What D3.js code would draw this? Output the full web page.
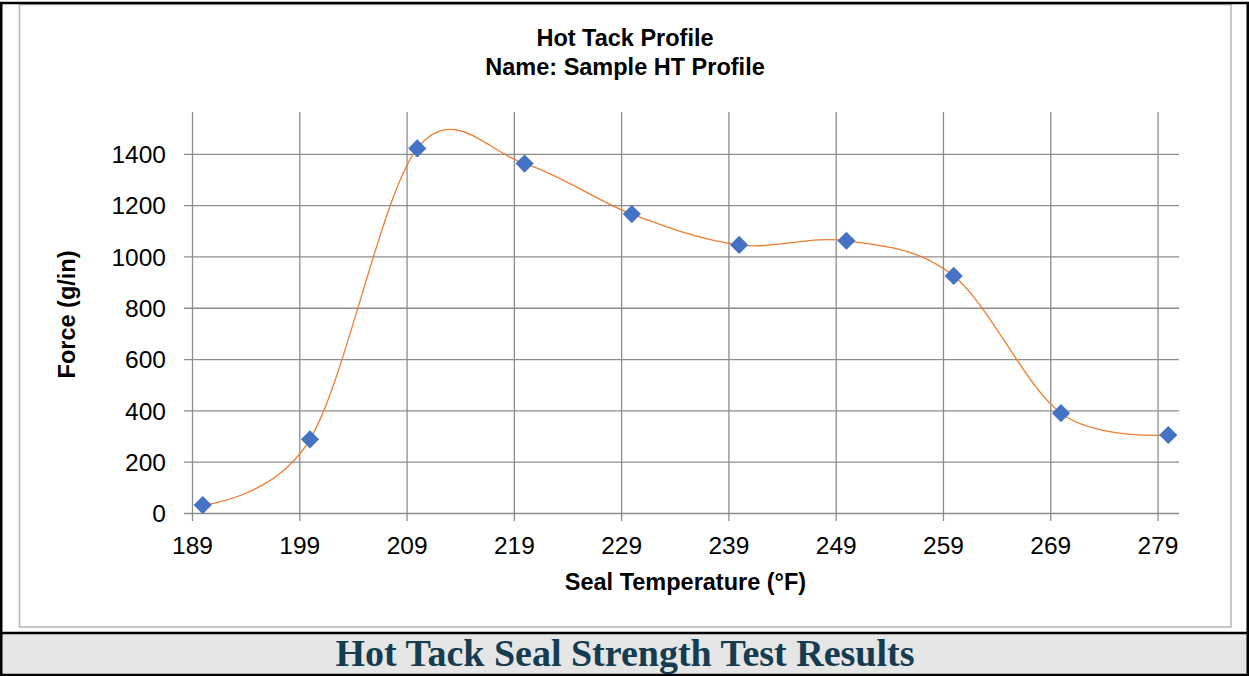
<!DOCTYPE html>
<html>
<head>
<meta charset="utf-8">
<script src="https://cdn.jsdelivr.net/npm/d3@7"></script>
<style>
  body { margin: 0; background: #fff; }
  svg { display: block; }
</style>
</head>
<body>
<svg id="chart" width="1249" height="676"></svg>
<script>
// seal temperature (F) and hot tack force (g/in)
const temps = [190, 200, 210, 220, 230, 240, 250, 260, 270, 280];
const force = [31, 287, 1421, 1362, 1165, 1045, 1061, 924, 389, 304];

const xTicks = [189, 199, 209, 219, 229, 239, 249, 259, 269, 279];
const yTicks = [0, 200, 400, 600, 800, 1000, 1200, 1400];

const titleLines = ["Hot Tack Profile", "Name: Sample HT Profile"];
const xTitle = "Seal Temperature (°F)";
const yTitle = "Force (g/in)";
const caption = "Hot Tack Seal Strength Test Results";

const svg = d3.select("#chart");
const W = +svg.attr("width");
const H = +svg.attr("height");

const plot = {left: 192, right: 1179, top: 112, bottom: 513};

const x = d3.scaleLinear().domain([189, 281]).range([plot.left, plot.right]);
const y = d3.scaleLinear().domain([0, 1563]).range([plot.bottom, plot.top]);

const data = temps.map((t, i) => ({t: t, f: force[i]}));

svg.append("rect").attr("width", W).attr("height", H).attr("fill", "#fff");

// caption bar
svg.append("rect")
  .attr("x", 1).attr("y", 633).attr("width", W - 2).attr("height", 42)
  .attr("fill", "#e6e6e6");
svg.append("text")
  .attr("x", 625).attr("y", 666)
  .attr("text-anchor", "middle")
  .attr("font-family", "'Liberation Serif', 'DejaVu Serif', serif")
  .attr("font-weight", "bold")
  .attr("font-size", 38)
  .attr("fill", "#153c50")
  .text(caption);

// chart area border (light gray)
svg.append("rect")
  .attr("x", 19.5).attr("y", 4.5).attr("width", 1211.5).attr("height", 622.5)
  .attr("fill", "none").attr("stroke", "#b4b4b4").attr("stroke-width", 1.5);

// outer black frame
svg.append("rect")
  .attr("x", 1.25).attr("y", 3).attr("width", W - 2.5).attr("height", H - 4)
  .attr("fill", "none").attr("stroke", "#000").attr("stroke-width", 2.5);
svg.append("line")
  .attr("x1", 0).attr("x2", W).attr("y1", 633).attr("y2", 633)
  .attr("stroke", "#000").attr("stroke-width", 2.5);

// gridlines via axes
const gridColor = "#8c8c8c";

const yAxis = svg.append("g")
  .attr("transform", `translate(${plot.left},0)`)
  .call(d3.axisLeft(y).tickValues(yTicks).tickFormat(d3.format("d")).tickSize(-(plot.right - plot.left)).tickSizeOuter(0));
yAxis.select(".domain").remove();
yAxis.selectAll(".tick line")
  .attr("x1", -8)
  .attr("stroke", gridColor).attr("stroke-width", 1.3);
yAxis.selectAll(".tick text")
  .attr("x", 166 - plot.left)
  .attr("dy", "0.36em")
  .attr("font-family", "'Liberation Sans', Arial, sans-serif")
  .attr("font-size", 24.5)
  .attr("fill", "#000");

const xAxis = svg.append("g")
  .attr("transform", `translate(0,${plot.bottom})`)
  .call(d3.axisBottom(x).tickValues(xTicks).tickFormat(d3.format("d")).tickSize(-(plot.bottom - plot.top)).tickSizeOuter(0));
xAxis.select(".domain").remove();
xAxis.selectAll(".tick line")
  .attr("y1", 8)
  .attr("stroke", gridColor).attr("stroke-width", 1.3);
xAxis.selectAll(".tick text")
  .attr("y", 41)
  .attr("dy", 0)
  .attr("font-family", "'Liberation Sans', Arial, sans-serif")
  .attr("font-size", 24.5)
  .attr("fill", "#000");

// smoothed line
const line = d3.line()
  .x(d => x(d.t))
  .y(d => y(d.f))
  .curve(d3.curveCardinal.tension(0));

svg.append("path")
  .datum(data)
  .attr("d", line)
  .attr("fill", "none")
  .attr("stroke", "#ed7d31")
  .attr("stroke-width", 1.3);

// diamond markers
const diamond = d3.symbol().type(d3.symbolSquare).size(165);
svg.selectAll(".pt")
  .data(data)
  .enter().append("path")
  .attr("class", "pt")
  .attr("d", diamond)
  .attr("transform", d => `translate(${x(d.t)},${y(d.f)}) rotate(45)`)
  .attr("fill", "#4472c4");

// titles
const bold = "'Liberation Sans', Arial, sans-serif";
svg.append("text")
  .attr("text-anchor", "middle")
  .attr("font-family", bold).attr("font-weight", "bold").attr("font-size", 23.5)
  .selectAll("tspan")
  .data(titleLines)
  .enter().append("tspan")
  .attr("x", 625)
  .attr("y", (d, i) => 46 + i * 29)
  .text(d => d);

svg.append("text")
  .attr("x", (plot.left + plot.right) / 2).attr("y", 590)
  .attr("text-anchor", "middle")
  .attr("font-family", bold).attr("font-weight", "bold").attr("font-size", 23.5)
  .text(xTitle);

svg.append("text")
  .attr("transform", `translate(75,${(plot.top + plot.bottom) / 2 + 2}) rotate(-90)`)
  .attr("text-anchor", "middle")
  .attr("font-family", bold).attr("font-weight", "bold").attr("font-size", 23.5)
  .text(yTitle);
</script>
</body>
</html>
